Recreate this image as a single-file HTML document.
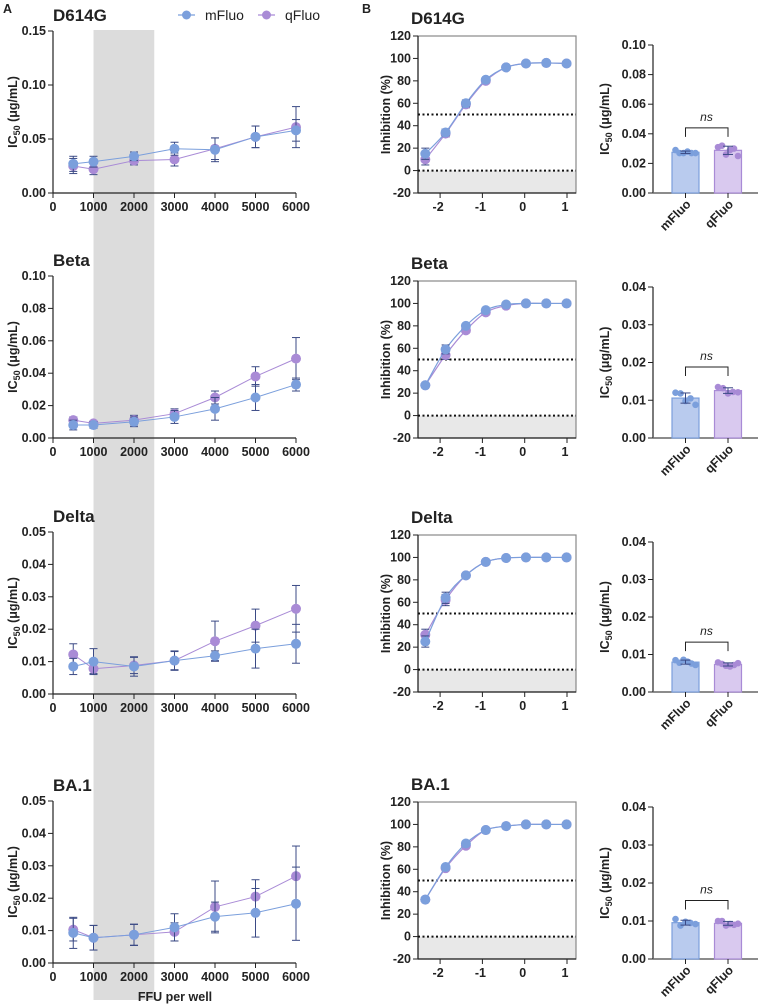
<!DOCTYPE html>
<html><head><meta charset="utf-8"><style>
body{margin:0;background:#fff}
svg{display:block;font-family:"Liberation Sans",Arial,sans-serif}
.t{font-weight:bold;font-size:12.5px;fill:#222}
.ti{font-weight:bold;font-size:17px;fill:#222}
</style></head><body>
<svg id="fig" width="758" height="1006" viewBox="0 0 758 1006" xmlns="http://www.w3.org/2000/svg"></svg>
<script>
const ffu = [500,1000,2000,3000,4000,5000,6000];
const variants = ["D614G","Beta","Delta","BA.1"];
const aMax = [0.15,0.10,0.05,0.05];
const aStep = [0.05,0.02,0.01,0.01];
const aM = [[.027,.029,.034,.041,.040,.052,.058],[.008,.008,.010,.013,.018,.025,.033],[.0085,.010,.0085,.0103,.0118,.014,.0155],[.0093,.0078,.0087,.0110,.0143,.0155,.0183]];
const aMe = [[.007,.005,.004,.006,.011,.010,.010],[.003,.002,.003,.004,.007,.008,.004],[.0025,.004,.003,.003,.0015,.006,.006],[.0048,.0038,.0032,.0042,.0045,.0075,.0113]];
const aQ = [[.025,.022,.030,.031,.041,.052,.061],[.011,.009,.011,.015,.025,.038,.049],[.0122,.0078,.0088,.0103,.0163,.0211,.0263],[.0103,.0078,.0087,.0096,.0173,.0205,.0268]];
const aQe = [[.007,.005,.004,.006,.010,.010,.019],[.002,.001,.003,.003,.004,.006,.013],[.0033,.0015,.0025,.0028,.0062,.0051,.0072],[.0035,.0038,.0033,.0028,.008,.0052,.0093]];
const logConc = [-2.35,-1.87,-1.39,-0.92,-0.44,0.03,0.51,0.99];
const bM = [[15,34,60,81,92,95.5,96,95.5],[27,59,80,94,99,100,100,100],[25,64,84,96,99.5,100,100,100],[33,62,83,95,98.5,100,100,100]];
const bQ = [[10,33,59,80,92,95.5,96,95.5],[27,54,76,92,98,100,100,100],[31,62,84,96,99.5,100,100,100],[33,61,81,95,98.5,100,100,100]];
const bErr = [[5,3,3,2,1,1,0.5,0.5],[2,4,2,1,1,0.5,0.5,0.5],[5,5,1,1,0.5,0.5,0.5,0.5],[1,2,2,1,1,0.5,0.5,0.5]];
const barMax = [0.10,0.04,0.04,0.04];
const barStep = [0.02,0.01,0.01,0.01];
const barPtsM = [[.029,.027,.027,.028,.027,.027],[.012,.0118,.0098,.0105,.0088],[.0085,.0078,.0086,.0081,.0076,.0072],[.0105,.0088,.0098,.0095,.0092]];
const barPtsQ = [[.031,.032,.026,.029,.030,.025],[.0135,.0132,.0118,.0122,.0121],[.0079,.0075,.007,.0068,.0072,.0077],[.01,.01,.0088,.0092,.009,.0093]];
const bracketVal = [0.044,0.0188,0.0133,0.0154];
const xTicks = [0,1000,2000,3000,4000,5000,6000];
const bTicksX = [-2,-1,0,1];
const bTicksY = [-20,0,20,40,60,80,100,120];

const CM="#7b9fdc", CQ="#a98bd6", CE="#3b4a85", CBM="#b9cbee", CBQ="#d9c9ef";
const svg=document.getElementById('fig');
const NS="http://www.w3.org/2000/svg";
function el(tag,attrs,parent){const e=document.createElementNS(NS,tag);for(const k in attrs)e.setAttribute(k,attrs[k]);(parent||svg).appendChild(e);return e;}
function txt(s,attrs,parent){const e=el('text',attrs,parent);e.textContent=s;return e;}
function fmt(v,d){return v.toFixed(d);}
const aTop=[31,276,532,801], bTop=[36,281,535,802], barTop=[45,287,542,807];
const aH=162, bH=157;
const aX=v=>53+v*0.0405;
const bX=v=>524.7+v*42.3;

const band=el('rect',{x:aX(1000),y:30,width:aX(2500)-aX(1000),height:970,fill:"#dcdcdc"});



txt("A",{x:3,y:13,class:"t",'font-size':"13"});
txt("B",{x:362,y:13,class:"t",'font-size':"13"});

const lg=el('g',{});


[[CM,"mFluo",178],[CQ,"qFluo",258]].forEach(([c,n,x])=>{
  el('line',{x1:x,y1:15,x2:x+17,y2:15,stroke:c,'stroke-width':1.2},lg);
  el('circle',{cx:x+8.5,cy:15,r:4.5,fill:c},lg);
  const t=txt(n,{x:x+27,y:20,'font-size':"14",fill:"#222"},lg);
  
});

function series(g,xs,ys,es,xf,yf,c,lineW){
  const pts=xs.map((x,i)=>[xf(x),yf(ys[i])]);
  el('polyline',{points:pts.map(p=>p.join(',')).join(' '),fill:'none',stroke:c,'stroke-width':lineW},g);
  xs.forEach((x,i)=>{
    const px=xf(x),y1=yf(ys[i]+es[i]),y2=yf(ys[i]-es[i]);
    el('line',{x1:px,y1:y1,x2:px,y2:y2,stroke:CE,'stroke-width':1},g);
    el('line',{x1:px-4,y1:y1,x2:px+4,y2:y1,stroke:CE,'stroke-width':1},g);
    el('line',{x1:px-4,y1:y2,x2:px+4,y2:y2,stroke:CE,'stroke-width':1},g);
  });
  pts.forEach(p=>{const m=el('circle',{cx:p[0],cy:p[1],r:5,fill:c},g);});
}
function smooth(pts){
  let d=`M${pts[0][0]},${pts[0][1]}`;
  for(let i=0;i<pts.length-1;i++){
    const p0=pts[i-1]||pts[i],p1=pts[i],p2=pts[i+1],p3=pts[i+2]||p2;
    d+=` C${p1[0]+(p2[0]-p0[0])/6},${p1[1]+(p2[1]-p0[1])/6} ${p2[0]-(p3[0]-p1[0])/6},${p2[1]-(p3[1]-p1[1])/6} ${p2[0]},${p2[1]}`;
  }
  return d;
}

variants.forEach((vn,r)=>{
  const g=el('g',{});
  
  
  const top=aTop[r],bot=top+aH,yf=v=>bot-v/aMax[r]*aH;
  txt(vn,{x:53,y:top-10,class:"ti"},g);
  el('line',{x1:53,y1:top,x2:53,y2:bot,stroke:"#222",'stroke-width':1.2},g);
  el('line',{x1:53,y1:bot,x2:aX(6000),y2:bot,stroke:"#222",'stroke-width':1.2},g);
  const nt=Math.round(aMax[r]/aStep[r]);
  for(let i=0;i<=nt;i++){const v=i*aStep[r],y=yf(v);
    el('line',{x1:48,y1:y,x2:53,y2:y,stroke:"#222"},g);
    txt(fmt(v,2),{x:46,y:y+4,class:"t",'text-anchor':"end"},g);}
  xTicks.forEach(v=>{el('line',{x1:aX(v),y1:bot,x2:aX(v),y2:bot+5,stroke:"#222"},g);
    txt(String(v),{x:aX(v),y:bot+18,class:"t",'text-anchor':"middle"},g);});
  const yl=txt("",{transform:`translate(17,${(top+bot)/2}) rotate(-90)`,class:"t",'font-size':"13",'text-anchor':"middle"},g);
  yl.innerHTML='IC<tspan font-size="9" dy="3">50</tspan><tspan dy="-3"> (μg/mL)</tspan>';
  
  series(g,ffu,aQ[r],aQe[r],aX,yf,CQ,1);
  series(g,ffu,aM[r],aMe[r],aX,yf,CM,1);

  const gb=el('g',{});
  
  
  const bt=bTop[r],bb=bt+bH,byf=v=>bb-(v+20)/140*bH,L=418,R=576;
  txt(vn,{x:411,y:bt-12,class:"ti"},gb);
  el('rect',{x:L,y:byf(0),width:R-L,height:bb-byf(0),fill:"#e8e8e8"},gb);
  el('rect',{x:L,y:bt,width:R-L,height:bH,fill:"none",stroke:"#888",'stroke-width':1.2},gb);
  el('line',{x1:L,y1:bt,x2:L,y2:bb,stroke:"#222",'stroke-width':1.2},gb);
  el('line',{x1:L,y1:bb,x2:R,y2:bb,stroke:"#222",'stroke-width':1.2},gb);
  [0,50].forEach(v=>el('line',{x1:L,y1:byf(v),x2:R,y2:byf(v),stroke:"#111",'stroke-width':2,'stroke-dasharray':"2,2.5"},gb));
  bTicksY.forEach(v=>{const y=byf(v);el('line',{x1:L-5,y1:y,x2:L,y2:y,stroke:"#222"},gb);
    txt(String(v),{x:L-7,y:y+4,class:"t",'text-anchor':"end"},gb);});
  bTicksX.forEach(v=>{el('line',{x1:bX(v),y1:bb,x2:bX(v),y2:bb+5,stroke:"#222"},gb);
    txt(String(v),{x:bX(v)-2,y:bb+18,class:"t",'text-anchor':"middle"},gb);});
  txt("Inhibition (%)",{transform:`translate(390,${(bt+bb)/2}) rotate(-90)`,class:"t",'font-size':"13",'text-anchor':"middle"},gb);
  [[bQ[r],CQ],[bM[r],CM]].forEach(([ys,c])=>{
    el('path',{d:smooth(logConc.map((x,i)=>[bX(x),byf(ys[i])])),fill:'none',stroke:c,'stroke-width':1.2},gb);
    logConc.forEach((x,i)=>{const px=bX(x),y1=byf(ys[i]+bErr[r][i]),y2=byf(ys[i]-bErr[r][i]);
      el('line',{x1:px,y1:y1,x2:px,y2:y2,stroke:CE},gb);
      el('line',{x1:px-4,y1:y1,x2:px+4,y2:y1,stroke:CE},gb);
      el('line',{x1:px-4,y1:y2,x2:px+4,y2:y2,stroke:CE},gb);
      const m=el('circle',{cx:px,cy:byf(ys[i]),r:5,fill:c},gb);
      
      });
  });

  const gc=el('g',{});
  
  
  const ct=barTop[r],cb=bb,cyf=v=>cb-v/barMax[r]*(cb-ct),AX=653;
  el('line',{x1:AX,y1:ct,x2:AX,y2:cb,stroke:"#222",'stroke-width':1.2},gc);
  el('line',{x1:AX,y1:cb,x2:758,y2:cb,stroke:"#666",'stroke-width':1.5},gc);
  const nb=Math.round(barMax[r]/barStep[r]);
  for(let i=0;i<=nb;i++){const v=i*barStep[r],y=cyf(v);
    el('line',{x1:AX-5,y1:y,x2:AX,y2:y,stroke:"#222"},gc);
    txt(fmt(v,2),{x:AX-7,y:y+4,class:"t",'text-anchor':"end"},gc);}
  const bl=txt("",{transform:`translate(609,${(ct+cb)/2}) rotate(-90)`,class:"t",'font-size':"13",'text-anchor':"middle"},gc);
  bl.innerHTML='IC<tspan font-size="9" dy="3">50</tspan><tspan dy="-3"> (μg/mL)</tspan>';
  
  [[barPtsM[r],685.5,CM,CBM,"mFluo"],[barPtsQ[r],728,CQ,CBQ,"qFluo"]].forEach(([pts,cx,c,cf,n])=>{
    const mean=pts.reduce((a,b)=>a+b,0)/pts.length;
    const sd=Math.sqrt(pts.reduce((a,b)=>a+(b-mean)*(b-mean),0)/(pts.length-1));
    const bar=el('rect',{x:cx-13.5,y:cyf(mean),width:27,height:cb-cyf(mean),fill:cf,stroke:c,'stroke-width':1.2},gc);
    
    
    pts.forEach((p,i)=>{const m=el('circle',{cx:cx-10+i*20/(pts.length-1),cy:cyf(p),r:3.3,fill:c},gc);
      
      });
    el('line',{x1:cx,y1:cyf(mean+sd),x2:cx,y2:cyf(mean-sd),stroke:CE},gc);
    el('line',{x1:cx-5,y1:cyf(mean+sd),x2:cx+5,y2:cyf(mean+sd),stroke:CE},gc);
    el('line',{x1:cx-5,y1:cyf(mean-sd),x2:cx+5,y2:cyf(mean-sd),stroke:CE},gc);
    el('line',{x1:cx,y1:cb,x2:cx,y2:cb+5,stroke:"#222"},gc);
    txt(n,{transform:`translate(${cx+6},${cb+12}) rotate(-45)`,class:"t",'text-anchor':"end"},gc);
  });
  const by=cyf(bracketVal[r]);
  el('polyline',{points:`685.5,${by+9} 685.5,${by} 728,${by} 728,${by+9}`,fill:'none',stroke:"#222"},gc);
  txt("ns",{x:706.5,y:by-7,'font-size':"12",'font-style':"italic",fill:"#222",'text-anchor':"middle"},gc);
});
txt("FFU per well",{x:175,y:1001,class:"t",'font-size':"13",'text-anchor':"middle"});
</script>
</body></html>
